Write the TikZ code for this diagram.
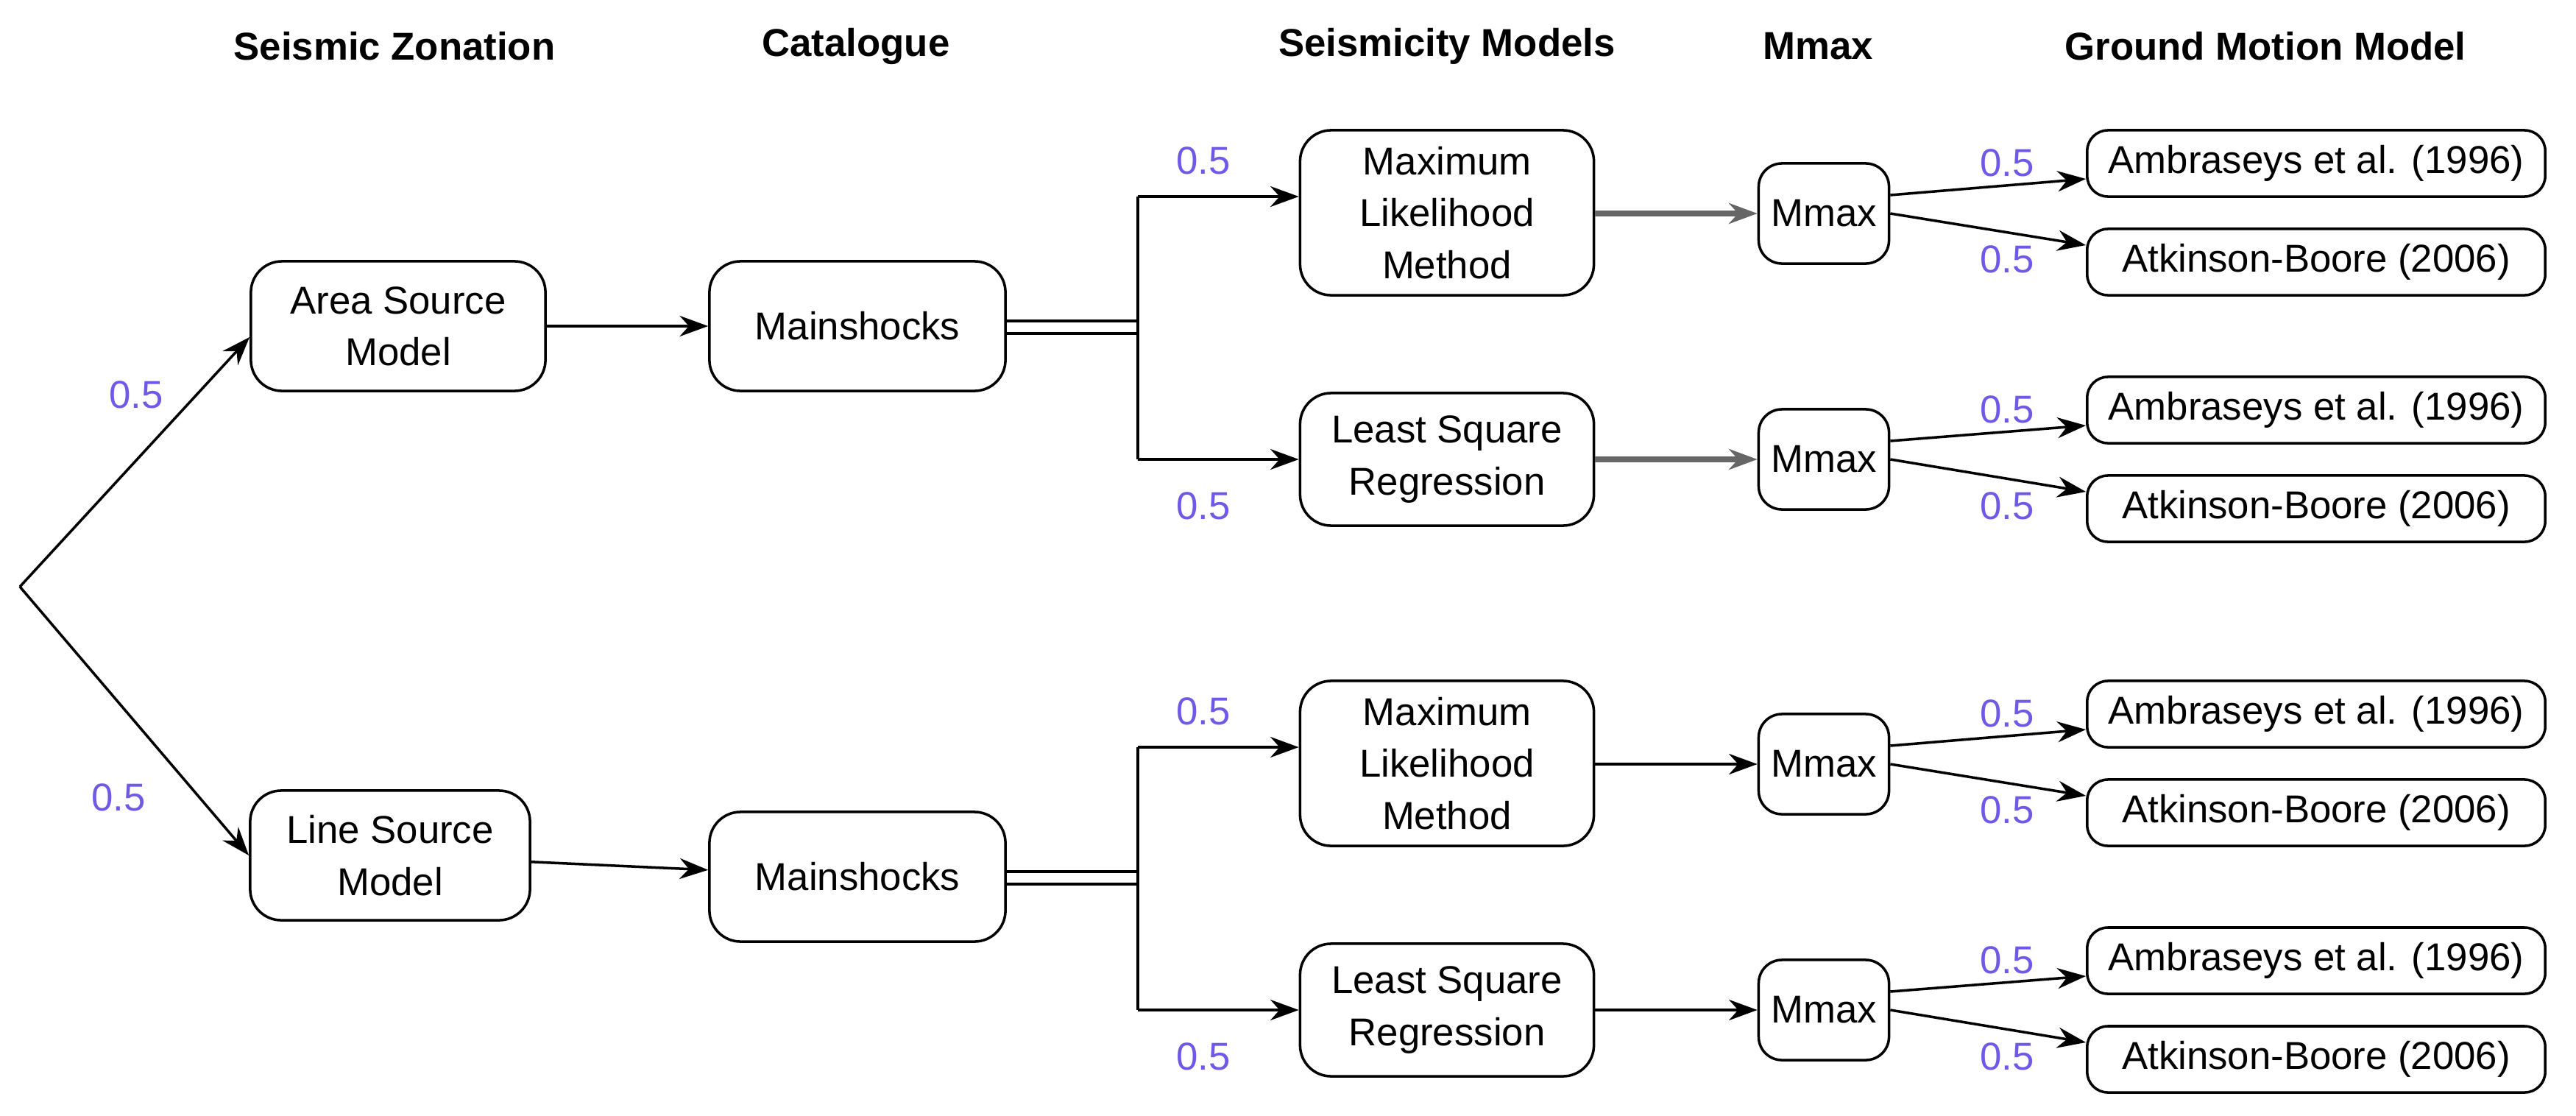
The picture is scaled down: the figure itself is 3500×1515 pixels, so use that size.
\documentclass[tikz,border=0pt]{standalone}
\usepackage{fontspec}
\setmainfont{Liberation Sans}
\usetikzlibrary{arrows.meta,calc}
\definecolor{lab}{RGB}{110,90,230}
\begin{document}
\begin{tikzpicture}[x=0.01cm,y=-0.01cm,
  box/.style={draw,line width=1pt,rounded corners=12pt,align=center,font=\fontsize{15pt}{20pt}\selectfont,inner sep=2pt},
  hdr/.style={font=\fontsize{15pt}{18pt}\selectfont\bfseries},
  lbl/.style={text=lab,font=\fontsize{15pt}{18pt}\selectfont},
  arr/.style={-{Stealth[length=11pt,width=8pt]},line width=1pt},
  garr/.style={-{Stealth[length=11pt,width=8pt]},line width=2pt,draw=black!60}]
\useasboundingbox (0,0) rectangle (3500,1515);
\node[hdr] (h1) at (536,63) {Seismic Zonation};
\node[hdr] (h2) at (1163,63) {Catalogue};
\node[hdr] (h3) at (1966,63) {Seismicity Models};
\node[hdr] (h4) at (2470,63) {Mmax};
\node[hdr] (h5) at (3078,63) {Ground Motion Model};
\coordinate (root) at (27,797);
\node[box,minimum width=40mm,minimum height=17.6mm] (src-a) at (541,443) {Area Source\\Model};
\node[box,minimum width=38mm,minimum height=17.6mm] (src-b) at (530,1162) {Line Source\\Model};
\draw[arr] (root) -- ($(src-a.west)+(0,15)$);
\draw[arr] (root) -- (src-b.west);
\node[lbl] (l1) at (185,536) {0.5};
\node[lbl] (l2) at (161,1083) {0.5};
\foreach \o/\n/\s in {0/a/garr,748/b/arr}{
  \node[box,minimum width=40.2mm,minimum height=17.6mm] (ms-\n) at (1165,443+\o) {Mainshocks};
  \node[box,minimum width=39.9mm,minimum height=22.4mm] (ml-\n) at (1966,289+\o) {Maximum\\Likelihood\\Method};
  \node[box,minimum width=39.9mm,minimum height=18mm] (ls-\n) at (1966,624+\o) {Least Square\\Regression};
  \node[box,minimum width=17.7mm,minimum height=13.6mm,rounded corners=9pt] (mma-\n) at (2478,290+\o) {Mmax};
  \node[box,minimum width=17.7mm,minimum height=13.6mm,rounded corners=9pt] (mmb-\n) at (2478,624+\o) {Mmax};
  \node[box,minimum width=62.2mm,minimum height=9mm,rounded corners=8pt] (g1-\n) at (3147,222+\o) {Ambraseys et al. (1996)};
  \node[box,minimum width=62.2mm,minimum height=9mm,rounded corners=8pt] (g2-\n) at (3147,356+\o) {Atkinson-Boore (2006)};
  \node[box,minimum width=62.2mm,minimum height=9mm,rounded corners=8pt] (g3-\n) at (3147,557+\o) {Ambraseys et al. (1996)};
  \node[box,minimum width=62.2mm,minimum height=9mm,rounded corners=8pt] (g4-\n) at (3147,691+\o) {Atkinson-Boore (2006)};
  \coordinate (j1-\n) at (1546,267+\o);
  \coordinate (j2-\n) at (1546,624+\o);
  \draw[line width=1pt] ($(ms-\n.east)+(0,-7)$) -- ++(180,0);
  \draw[line width=1pt] ($(ms-\n.east)+(0,10)$) -- ++(180,0);
  \draw[line width=1pt] (j1-\n) -- (j2-\n);
  \draw[arr] (j1-\n) -- (ml-\n.west |- j1-\n);
  \draw[arr] (j2-\n) -- (ls-\n.west);
  \node[lbl] at (1635,218+\o) {0.5};
  \node[lbl] at (1635,687+\o) {0.5};
  \draw[\s] (ml-\n.east |- mma-\n) -- (mma-\n.west);
  \draw[\s] (ls-\n.east) -- (mmb-\n.west);
  \draw[arr] ($(mma-\n.east)+(0,-25)$) -- ($(g1-\n.west)+(0,21)$);
  \draw[arr] (mma-\n.east) -- ($(g2-\n.west)+(0,-23)$);
  \draw[arr] ($(mmb-\n.east)+(0,-25)$) -- ($(g3-\n.west)+(0,21)$);
  \draw[arr] (mmb-\n.east) -- ($(g4-\n.west)+(0,-23)$);
  \node[lbl] at (2727,221+\o) {0.5};
  \node[lbl] at (2727,352+\o) {0.5};
  \node[lbl] at (2727,556+\o) {0.5};
  \node[lbl] at (2727,687+\o) {0.5};
}
\draw[arr] (src-a) -- (ms-a);
\draw[arr] (src-b) -- (ms-b);
\end{tikzpicture}
\end{document}
